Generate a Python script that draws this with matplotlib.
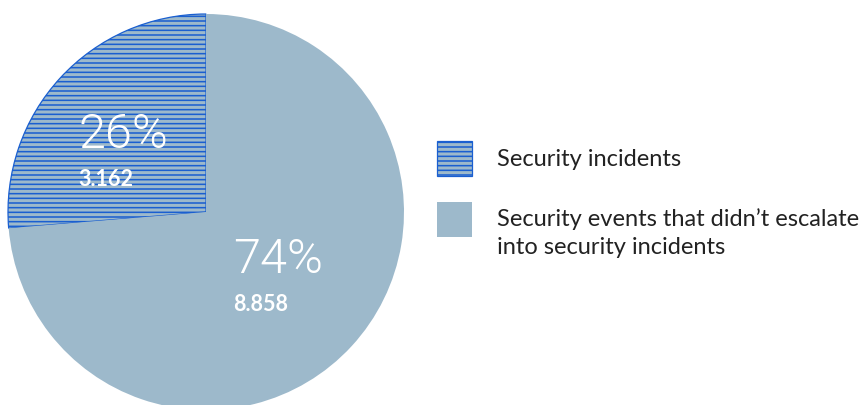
import matplotlib
matplotlib.use("Agg")
import matplotlib.pyplot as plt
from matplotlib.patches import Rectangle

labels = ["Security incidents", "Security events that didn\u2019t escalate\ninto security incidents"]
values = [3.162, 8.858]
pct_text = ["26%", "74%"]
val_text = ["3.162", "8.858"]

fill = "#9db9cb"
blue = "#1a5fd0"

# dpi chosen so the hatch spacing matches the original (~4.7 px)
DPI = 112
k = 100 / DPI  # font sizes below are given for 100 dpi

plt.rcParams["font.family"] = ["Lato", "DejaVu Sans"]
plt.rcParams["hatch.linewidth"] = 1.0

W, H = 863, 405
fig = plt.figure(figsize=(W / DPI, H / DPI), dpi=DPI)
# pie centre ~ (206, 212) px, radius ~198 px
ax = fig.add_axes([8 / W, -5 / H, 396 / W, 396 / H])
wedges, _ = ax.pie(values, startangle=90, counterclock=True, colors=[fill, fill],
                   radius=1.0, wedgeprops=dict(linewidth=0))
wedges[0].set_hatch("----")
wedges[0].set_edgecolor(blue)
wedges[0].set_linewidth(0.8)
ax.set_xlim(-1, 1)
ax.set_ylim(-1, 1)
ax.set_aspect("auto")
ax.axis("off")

# labels inside slices
pos = [(-0.646, 0.323, 0.131), (0.135, -0.31, -0.5)]
for (x, y1, y2), p, v in zip(pos, pct_text, val_text):
    ax.text(x, y1, p, color="white", fontsize=35 * k, family=["Roboto", "DejaVu Sans"],
            fontweight=300, ha="left", va="baseline")
    ax.text(x, y2, v, color="white", fontsize=15.5 * k, fontweight="bold",
            ha="left", va="baseline")

# legend drawn by hand
r1 = Rectangle((437 / W, 1 - 176 / H), 35 / W, 35 / H, transform=fig.transFigure,
               facecolor=fill, edgecolor=blue, hatch="----", linewidth=0.8)
r2 = Rectangle((437 / W, 1 - 237 / H), 35 / W, 35 / H, transform=fig.transFigure,
               facecolor=fill, edgecolor="none")
fig.patches.extend([r1, r2])
fig.text(497 / W, 1 - 159 / H, labels[0], fontsize=17 * k, color="#222222",
         ha="left", va="center")
fig.text(497 / W, 1 - 208 / H, labels[1], fontsize=17 * k, color="#222222",
         ha="left", va="top", linespacing=1.45)

fig.savefig("out.png", dpi=DPI)
